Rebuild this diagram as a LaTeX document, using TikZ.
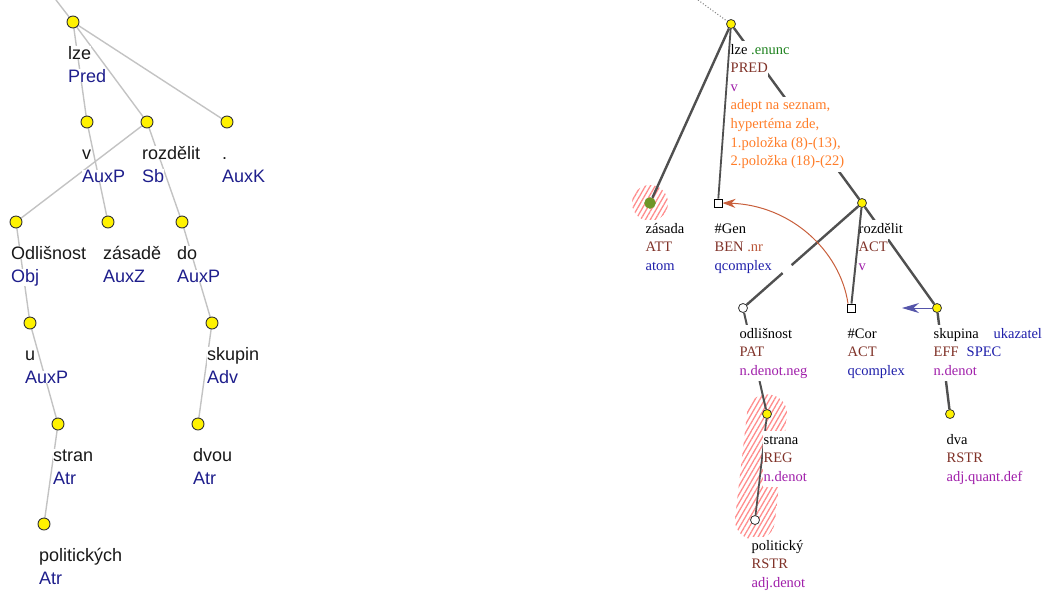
\documentclass[tikz,border=0pt]{standalone}
\usepackage{fontspec}
\setmainfont{Liberation Serif}
\newfontfamily\lsans{Liberation Sans}
\usetikzlibrary{patterns,patterns.meta,arrows.meta}
\definecolor{lnavy}{RGB}{30,30,140}
\definecolor{rbrown}{RGB}{128,50,40}
\definecolor{rpurple}{RGB}{160,30,170}
\definecolor{rblue}{RGB}{30,30,170}
\definecolor{rorange}{RGB}{255,125,40}
\definecolor{rgreen}{RGB}{30,130,30}
\definecolor{ledge}{RGB}{195,195,195}
\definecolor{redge}{RGB}{80,80,80}
\definecolor{arrbrown}{RGB}{200,95,60}
\definecolor{arrblue}{RGB}{85,85,170}
\definecolor{zgreen}{RGB}{110,150,40}
\definecolor{hatchred}{RGB}{255,140,140}
\tikzset{
  lcirc/.style={circle,draw=black!80,fill=yellow,minimum size=12pt,inner sep=0pt,line width=0.9pt},
  lword/.style={anchor=base west,inner sep=0pt,fill=white,font=\lsans\fontsize{18}{22}\selectfont,text=black!90},
  lfunc/.style={anchor=base west,inner sep=0pt,fill=white,font=\lsans\fontsize{18}{22}\selectfont,text=lnavy},
  ledgestyle/.style={draw=ledge,line width=1.4pt},
  rycirc/.style={circle,draw=black!80,fill=yellow,minimum size=9pt,inner sep=0pt,line width=0.8pt},
  rwcirc/.style={circle,draw=black!80,fill=white,minimum size=9pt,inner sep=0pt,line width=0.8pt},
  rgcirc/.style={circle,draw=zgreen,fill=zgreen,minimum size=11pt,inner sep=0pt},
  rsq/.style={rectangle,draw=black,fill=white,minimum size=8pt,inner sep=0pt,line width=0.9pt},
  rt/.style={anchor=base west,inner xsep=0.5pt,inner ysep=1.6pt,text height=11pt,text depth=4.5pt,fill=white,font=\fontsize{14.5}{18}\selectfont},
  redgestyle/.style={draw=redge,line width=2.4pt},
  hatch/.style={pattern={Lines[angle=60,distance=4.2pt,line width=1.3pt]},pattern color=hatchred},
}
\newcommand\ltn[5]{%
  \node[lcirc] (#1) at (#2,-#3) {};
  \node[lword] (#1w) at (#2-5,-#3-37) {#4};
  \node[lfunc] (#1f) at (#2-5,-#3-60) {#5};}
\begin{document}
\begin{tikzpicture}[x=1pt,y=1pt]
\useasboundingbox (0,0) rectangle (1046,-590);
% ---------------- left tree ----------------
\coordinate (ltop) at (56,0);
\coordinate (plze) at (73,-22);
\coordinate (pv) at (87,-122);
\coordinate (proz) at (147,-122);
\coordinate (pdot) at (227,-122);
\coordinate (podl) at (16,-222);
\coordinate (pzs) at (108,-222);
\coordinate (pdo) at (182,-222);
\coordinate (pu) at (30,-323);
\coordinate (psku) at (212,-323);
\coordinate (pstran) at (58,-424);
\coordinate (pdvou) at (198,-424);
\coordinate (ppol) at (44,-524);
\draw[ledgestyle] (ltop) -- (plze);
\draw[ledgestyle] (plze) -- (pv);
\draw[ledgestyle] (plze) -- (proz);
\draw[ledgestyle] (plze) -- (pdot);
\draw[ledgestyle] (proz) -- (podl);
\draw[ledgestyle] (pv) -- (pzs);
\draw[ledgestyle] (proz) -- (pdo);
\draw[ledgestyle] (podl) -- (pu);
\draw[ledgestyle] (pu) -- (pstran);
\draw[ledgestyle] (pstran) -- (ppol);
\draw[ledgestyle] (pdo) -- (psku);
\draw[ledgestyle] (psku) -- (pdvou);
\ltn{lze}{73}{22}{lze}{Pred}
\ltn{v}{87}{122}{v}{AuxP}
\ltn{roz}{147}{122}{rozdělit}{Sb}
\ltn{dot}{227}{122}{.}{AuxK}
\ltn{odl}{16}{222}{Odlišnost}{Obj}
\ltn{zas}{108}{222}{zásadě}{AuxZ}
\ltn{do}{182}{222}{do}{AuxP}
\ltn{u}{30}{323}{u}{AuxP}
\ltn{sku}{212}{323}{skupin}{Adv}
\ltn{stran}{58}{424}{stran}{Atr}
\ltn{dvou}{198}{424}{dvou}{Atr}
\ltn{pol}{44}{524}{politických}{Atr}
% ---------------- right tree ----------------
\coordinate (rtop) at (698,0);
\coordinate (pzas) at (650,-203);
\fill[hatch] (pzas) circle (18);
\begin{scope}[shift={(761,-467)},rotate=83.5]
  \fill[hatch,rounded corners=19.5pt] (-73,-20) rectangle (73,20);
\end{scope}
\node[rycirc] (rlze) at (731,-24) {};
\node[rgcirc] (zas2) at (pzas) {};
\node[rsq] (gen) at (718,-203) {};
\node[rycirc] (roz2) at (862,-203) {};
\node[rwcirc] (odl2) at (743,-308) {};
\node[rsq] (cor) at (851,-308) {};
\node[rycirc] (skup) at (937,-308) {};
\node[rycirc] (strana) at (767,-414) {};
\node[rycirc] (dva) at (950,-414) {};
\node[rwcirc] (polit) at (755,-520) {};
\coordinate (bluend) at (902,-308);
% edges (behind labels)
\draw[draw=gray,dotted,line width=1pt] (rtop) -- (rlze);
\draw[redgestyle] (rlze) -- (zas2);
\draw[redgestyle] (rlze) -- (roz2);
\draw[redgestyle,dash pattern=on 89pt off 12pt on 200pt] (roz2) -- (odl2);
\draw[redgestyle] (roz2) -- (skup);
\draw[redgestyle,line width=2pt] (odl2) -- (strana);
\draw[redgestyle,line width=1.7pt] (strana) -- (polit);
\draw[redgestyle] (skup) -- (dva);
\draw[arrbrown,line width=1pt,-{Stealth[length=13pt,width=9pt]}] ([xshift=-3pt]cor.north) .. controls (840,-250) and (790,-205) .. (gen.east);
% right texts
\node[rt] (t1a) at (730,-54) {lze \textcolor{rgreen}{.enunc}};
\node[rt,text=rbrown] (t1b) at (730,-72.6) {PRED};
\node[rt,text=rpurple] (t1c) at (730,-91.2) {v};
\node[rt,text=rorange] (t1d) at (730,-109.8) {adept na seznam,};
\node[rt,text=rorange] (t1e) at (730,-128.4) {hypertéma zde,};
\node[rt,text=rorange] (t1f) at (730,-147) {1.položka (8)-(13),};
\node[rt,text=rorange] (t1g) at (730,-165.6) {2.položka (18)-(22)};
\node[rt] (t2a) at (645,-233) {zásada};
\node[rt,text=rbrown] (t2b) at (645,-251.6) {ATT};
\node[rt,text=rblue] (t2c) at (645,-270.2) {atom};
\node[rt] (t3a) at (714,-233) {\#Gen};
\node[rt,text=rbrown] (t3b) at (714,-251.6) {BEN \textcolor{arrbrown!80!rbrown}{.nr}};
\node[rt,text=rblue] (t3c) at (714,-270.2) {qcomplex};
\node[rt] (t4a) at (858,-233) {rozdělit};
\node[rt,text=rbrown] (t4b) at (858,-251.6) {ACT};
\node[rt,text=rpurple] (t4c) at (858,-270.2) {v};
\node[rt] (t5a) at (739,-338) {odlišnost};
\node[rt,text=rbrown] (t5b) at (739,-356.6) {PAT};
\node[rt,text=rpurple] (t5c) at (739,-375.2) {n.denot.neg};
\node[rt] (t6a) at (847,-338) {\#Cor};
\node[rt,text=rbrown] (t6b) at (847,-356.6) {ACT};
\node[rt,text=rblue] (t6c) at (847,-375.2) {qcomplex};
\node[rt] (t7a) at (933,-338) {skupina};
\node[rt,text=rblue] (t7d) at (993,-338) {ukazatel};
\node[rt,text=rbrown] (t7b) at (933,-356.6) {EFF};
\node[rt,text=rblue] (t7e) at (966,-356.6) {SPEC};
\node[rt,text=rpurple] (t7c) at (933,-375.2) {n.denot};
\node[rt] (t8a) at (763,-444) {strana};
\node[rt,text=rbrown] (t8b) at (763,-462.6) {REG};
\node[rt,text=rpurple] (t8c) at (763,-481.2) {n.denot};
\node[rt] (t9a) at (946,-444) {dva};
\node[rt,text=rbrown] (t9b) at (946,-462.6) {RSTR};
\node[rt,text=rpurple] (t9c) at (946,-481.2) {adj.quant.def};
\node[rt] (t10a) at (751,-550) {politický};
\node[rt,text=rbrown] (t10b) at (751,-568.6) {RSTR};
\node[rt,text=rpurple] (t10c) at (751,-587.2) {adj.denot};
% edges drawn over labels
\draw[redgestyle,line width=1.8pt] (rlze) -- (gen);
\draw[redgestyle,line width=2pt] (roz2) -- (cor);
\draw[arrblue,line width=1pt,-{Stealth[length=17pt,width=10pt]}] (skup.west) -- (bluend);
\end{tikzpicture}
\end{document}
